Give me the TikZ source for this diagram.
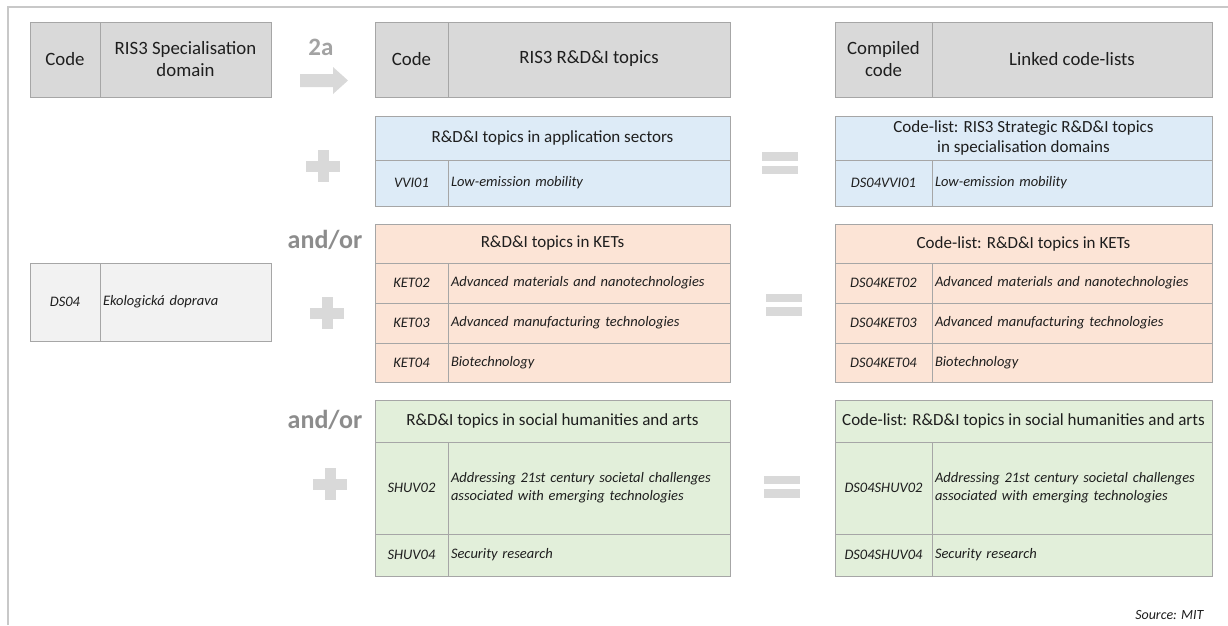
\documentclass[tikz,border=0pt]{standalone}
\usepackage{fontspec}
\setmainfont{Carlito}
\usetikzlibrary{positioning}
\definecolor{hdrfill}{HTML}{D9D9D9}
\definecolor{cellline}{HTML}{A6A6A6}
\definecolor{bluefill}{HTML}{DDEBF7}
\definecolor{orangefill}{HTML}{FCE4D6}
\definecolor{greenfill}{HTML}{E2EFDA}
\definecolor{domfill}{HTML}{F2F2F2}
\definecolor{signgray}{HTML}{D9D9D9}
\definecolor{labgray}{HTML}{8C8C8C}
\definecolor{txtdark}{HTML}{1E1E1E}
\definecolor{framegray}{HTML}{C8C8C8}
\begin{document}
\begin{tikzpicture}[x=1pt,y=-1pt,
  cell/.style={draw=cellline,line width=0.9pt,outer sep=0pt,inner sep=3pt,text=txtdark},
  hdr/.style={cell,fill=hdrfill,align=center,minimum height=75,font=\fontsize{18.8}{22}\selectfont},
  ttl/.style={cell,fill=#1,align=center,font=\fontsize{17}{19.5}\selectfont},
  cd/.style={cell,fill=#1,align=center,font=\fontsize{14.5}{17}\selectfont\itshape},
  ds/.style={cell,fill=#1,align=left,font=\fontsize{14.5}{18}\selectfont\itshape},
  andor/.style={text=labgray,font=\fontsize{26}{29}\selectfont\bfseries}]
\useasboundingbox (0,0) rectangle (1228,625);
\draw[framegray,line width=1.2pt] (8,625) -- (8,7) -- (1228,7);
%
% header rows
\node[hdr,minimum width=70,anchor=north west] (hcode1) at (30,22) {Code};
\node[hdr,minimum width=171,right=0pt of hcode1] (hdom) {RIS3 Specialisation\\domain};
\node[hdr,minimum width=73,anchor=north west] (hcode2) at (375,22) {Code};
\node[hdr,minimum width=282,right=0pt of hcode2] (htopic) {RIS3 R\&D\&I topics\strut};
\node[hdr,minimum width=97,anchor=north west] (hcode3) at (835,22) {Compiled\\code};
\node[hdr,minimum width=280,right=0pt of hcode3] (hlist) {Linked code-lists};
%
\node[andor,font=\fontsize{25}{28}\selectfont\bfseries,text=labgray!80] (twoa) at (321,47) {2a};
\fill[signgray] (300,74) -- (333,74) -- (333,67) -- (348,80.5) -- (333,94) -- (333,87) -- (300,87) -- cycle;
%
% specialisation domain
\node[cd=domfill,minimum width=70,minimum height=78,anchor=north west] (dscode) at (30,263) {DS04};
\node[ds=domfill,text width=165,minimum height=78,right=0pt of dscode] (dsname) {Ekologick\'a doprava};
%
% application sectors
\node[ttl=bluefill,minimum width=355,minimum height=44,anchor=north west] (btitle) at (375,116) {R\&D\&I topics in application sectors};
\node[cd=bluefill,minimum width=73,minimum height=46,anchor=north west] (bcode) at (btitle.south west) {VVI01};
\node[ds=bluefill,text width=276,minimum height=46,right=0pt of bcode] (bname) {Low-emission mobility};
\node[ttl=bluefill,minimum width=377,minimum height=44,anchor=north west] (ctitle) at (835,116) {Code-list: RIS3 Strategic R\&D\&I topics\\in specialisation domains};
\node[cd=bluefill,minimum width=97,minimum height=46,anchor=north west] (ccode) at (ctitle.south west) {DS04VVI01};
\node[ds=bluefill,text width=274,minimum height=46,right=0pt of ccode] (cname) {Low-emission mobility};
%
% KETs
\node[andor] (andor1) at (325,240) {and/or};
\node[ttl=orangefill,minimum width=355,minimum height=39,anchor=north west] (ktitle) at (375,224) {R\&D\&I topics in KETs};
\node[cd=orangefill,minimum width=73,minimum height=40,anchor=north west] (kcodea) at (ktitle.south west) {KET02};
\node[ds=orangefill,text width=276,minimum height=40,right=0pt of kcodea] (knamea) {Advanced materials and nanotechnologies};
\node[cd=orangefill,minimum width=73,minimum height=40,anchor=north west] (kcodeb) at (kcodea.south west) {KET03};
\node[ds=orangefill,text width=276,minimum height=40,right=0pt of kcodeb] (knameb) {Advanced manufacturing technologies};
\node[cd=orangefill,minimum width=73,minimum height=39,anchor=north west] (kcodec) at (kcodeb.south west) {KET04};
\node[ds=orangefill,text width=276,minimum height=39,right=0pt of kcodec] (knamec) {Biotechnology};
\node[ttl=orangefill,minimum width=377,minimum height=39,anchor=north west] (ltitle) at (835,224) {Code-list: R\&D\&I topics in KETs};
\node[cd=orangefill,minimum width=97,minimum height=40,anchor=north west] (lcodea) at (ltitle.south west) {DS04KET02};
\node[ds=orangefill,text width=274,minimum height=40,right=0pt of lcodea] (lnamea) {Advanced materials and nanotechnologies};
\node[cd=orangefill,minimum width=97,minimum height=40,anchor=north west] (lcodeb) at (lcodea.south west) {DS04KET03};
\node[ds=orangefill,text width=274,minimum height=40,right=0pt of lcodeb] (lnameb) {Advanced manufacturing technologies};
\node[cd=orangefill,minimum width=97,minimum height=39,anchor=north west] (lcodec) at (lcodeb.south west) {DS04KET04};
\node[ds=orangefill,text width=274,minimum height=39,right=0pt of lcodec] (lnamec) {Biotechnology};
%
% social humanities and arts
\node[andor] (andor2) at (325,420) {and/or};
\node[ttl=greenfill,minimum width=355,minimum height=42,anchor=north west] (stitle) at (375,400) {R\&D\&I topics in social humanities and arts};
\node[cd=greenfill,minimum width=73,minimum height=92,anchor=north west] (scodea) at (stitle.south west) {SHUV02};
\node[ds=greenfill,text width=276,minimum height=92,right=0pt of scodea] (snamea) {Addressing 21st century societal challenges\\associated with emerging technologies};
\node[cd=greenfill,minimum width=73,minimum height=42,anchor=north west] (scodeb) at (scodea.south west) {SHUV04};
\node[ds=greenfill,text width=276,minimum height=42,right=0pt of scodeb] (snameb) {Security research};
\node[ttl=greenfill,minimum width=377,minimum height=42,anchor=north west] (ttitle) at (835,400) {Code-list: R\&D\&I topics in social humanities and arts};
\node[cd=greenfill,minimum width=97,minimum height=92,anchor=north west] (tcodea) at (ttitle.south west) {DS04SHUV02};
\node[ds=greenfill,text width=274,minimum height=92,right=0pt of tcodea] (tnamea) {Addressing 21st century societal challenges\\associated with emerging technologies};
\node[cd=greenfill,minimum width=97,minimum height=42,anchor=north west] (tcodeb) at (tcodea.south west) {DS04SHUV04};
\node[ds=greenfill,text width=274,minimum height=42,right=0pt of tcodeb] (tnameb) {Security research};
%
% plus and equals signs
\foreach \px/\py in {323/166, 327/313, 330/484}{
  \fill[signgray] (\px-17,\py-5.5) rectangle (\px+17,\py+5.5);
  \fill[signgray] (\px-5.5,\py-16) rectangle (\px+5.5,\py+16);
}
\foreach \ex/\ey in {780/163, 784/304.5, 782/486.5}{
  \fill[signgray] (\ex-18,\ey-11) rectangle (\ex+18,\ey-2.5);
  \fill[signgray] (\ex-18,\ey+2.5) rectangle (\ex+18,\ey+11);
}
%
\node[text=txtdark,font=\fontsize{14}{16}\selectfont\itshape,anchor=east] (source) at (1207,615) {Source: MIT};
\end{tikzpicture}
\end{document}
